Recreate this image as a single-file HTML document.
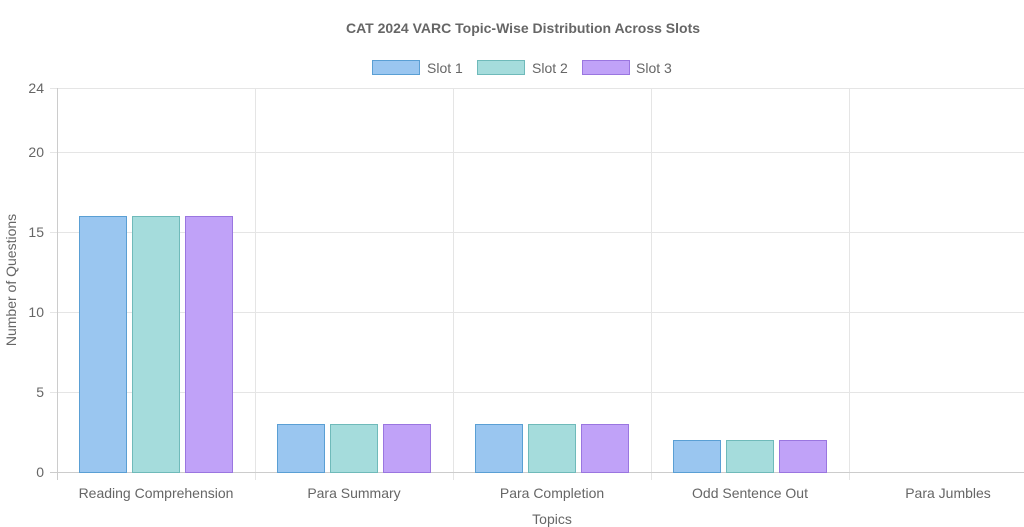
<!DOCTYPE html>
<html><head><style>body{margin:0;background:#fff}svg{display:block;font-family:"Liberation Sans",Arial,sans-serif}</style></head><body>
<svg width="1024" height="527" viewBox="0 0 1024 527">
<text x="523" y="33" text-anchor="middle" font-size="14" font-weight="bold" fill="#666">CAT 2024 VARC Topic-Wise Distribution Across Slots</text>
<rect x="372.5" y="60.5" width="47" height="14" fill="#9ac6f0" stroke="#5a9fd4"/>
<text x="427" y="73" font-size="14" fill="#666">Slot 1</text>
<rect x="477.5" y="60.5" width="47" height="14" fill="#a5dcdc" stroke="#6fbaba"/>
<text x="532" y="73" font-size="14" fill="#666">Slot 2</text>
<rect x="582.5" y="60.5" width="47" height="14" fill="#c0a2f8" stroke="#9a76e0"/>
<text x="636" y="73" font-size="14" fill="#666">Slot 3</text>
<g stroke="#e5e5e5" stroke-width="1">
<line x1="50" y1="88.5" x2="1024" y2="88.5"/>
<line x1="50" y1="152.5" x2="1024" y2="152.5"/>
<line x1="50" y1="232.5" x2="1024" y2="232.5"/>
<line x1="50" y1="312.5" x2="1024" y2="312.5"/>
<line x1="50" y1="392.5" x2="1024" y2="392.5"/>
<line x1="255.5" y1="88" x2="255.5" y2="480"/>
<line x1="453.5" y1="88" x2="453.5" y2="480"/>
<line x1="651.5" y1="88" x2="651.5" y2="480"/>
<line x1="849.5" y1="88" x2="849.5" y2="480"/>
</g>
<line x1="50" y1="472.5" x2="1024" y2="472.5" stroke="#ccc"/>
<line x1="57.5" y1="88" x2="57.5" y2="480" stroke="#ccc"/>
<g font-size="14" fill="#666" text-anchor="end">
<text x="44" y="93">24</text><text x="44" y="157">20</text><text x="44" y="237">15</text><text x="44" y="317">10</text><text x="44" y="397">5</text><text x="44" y="477">0</text>
</g>
<text transform="translate(16,280) rotate(-90)" text-anchor="middle" font-size="14" fill="#666">Number of Questions</text>
<g font-size="14" fill="#666" text-anchor="middle">
<text x="156" y="498">Reading Comprehension</text>
<text x="354" y="498">Para Summary</text>
<text x="552" y="498">Para Completion</text>
<text x="750" y="498">Odd Sentence Out</text>
<text x="948" y="498">Para Jumbles</text>
<text x="552" y="524">Topics</text>
</g>
<g stroke-width="1">
<rect x="79.5" y="216.5" width="47" height="256" fill="#9ac6f0" stroke="#5a9fd4"/>
<rect x="132.5" y="216.5" width="47" height="256" fill="#a5dcdc" stroke="#6fbaba"/>
<rect x="185.5" y="216.5" width="47" height="256" fill="#c0a2f8" stroke="#9a76e0"/>
<rect x="277.5" y="424.5" width="47" height="48" fill="#9ac6f0" stroke="#5a9fd4"/>
<rect x="330.5" y="424.5" width="47" height="48" fill="#a5dcdc" stroke="#6fbaba"/>
<rect x="383.5" y="424.5" width="47" height="48" fill="#c0a2f8" stroke="#9a76e0"/>
<rect x="475.5" y="424.5" width="47" height="48" fill="#9ac6f0" stroke="#5a9fd4"/>
<rect x="528.5" y="424.5" width="47" height="48" fill="#a5dcdc" stroke="#6fbaba"/>
<rect x="581.5" y="424.5" width="47" height="48" fill="#c0a2f8" stroke="#9a76e0"/>
<rect x="673.5" y="440.5" width="47" height="32" fill="#9ac6f0" stroke="#5a9fd4"/>
<rect x="726.5" y="440.5" width="47" height="32" fill="#a5dcdc" stroke="#6fbaba"/>
<rect x="779.5" y="440.5" width="47" height="32" fill="#c0a2f8" stroke="#9a76e0"/>
</g>
</svg>
</body></html>
